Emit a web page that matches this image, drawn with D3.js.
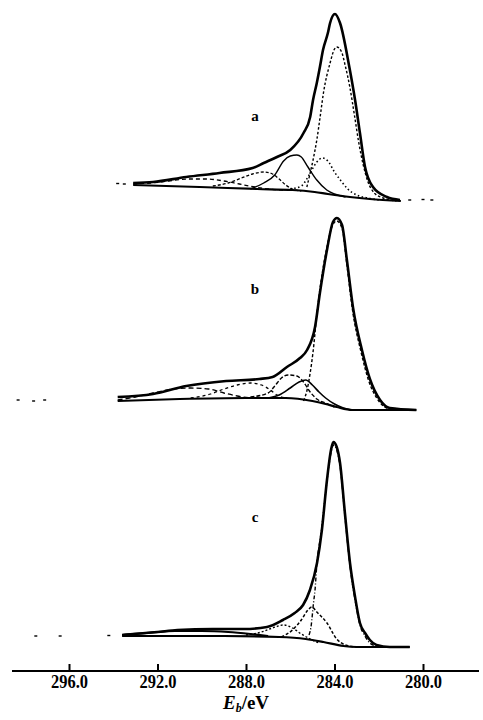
<!DOCTYPE html>
<html><head><meta charset="utf-8">
<script src="https://cdn.jsdelivr.net/npm/d3@7"></script>
<style>html,body{margin:0;padding:0;background:#fff;} svg{display:block;}</style>
</head><body>
<svg id="chart" width="483" height="720"></svg>
<script>
// ---------- data (binding energy eV, intensity a.u.) ----------
const tickValues = [296, 292, 288, 284, 280];
const tickLabels = ["296.0", "292.0", "288.0", "284.0", "280.0"];
const panelNames = ["a", "b", "c"];
const axisTitleMain = "E", axisTitleSub = "b", axisTitleUnit = "/eV";

// panel a
const aEnvelope = [[293.1,18],[292.2,19],[290.7,24],[289.2,28],[287.7,33],[287.2,38],[286.6,44],[286.0,51],[285.4,68],[285.1,84],[284.97,101],[284.8,118],[284.66,134],[284.52,151],[284.3,168],[284.2,178],[283.98,187],[283.75,178],[283.33,134],[283.07,101],[282.85,68],[282.62,34],[282.26,14],[281.63,4],[281.04,1]];
const aBackground = [[293.1,16],[290.1,14],[287.5,12],[285.9,11],[284.9,9],[284.3,7],[283.3,4],[282.4,2],[281.0,0]];
const aPeak1 = [[285.25,14],[285.1,28],[284.97,41],[284.8,61],[284.65,84],[284.5,108],[284.2,138],[284.0,152],[283.9,154],[283.7,150],[283.5,134],[283.3,113],[283.1,86],[282.9,58],[282.7,36],[282.5,20],[282.2,8],[281.8,3],[281.2,0]];
const aPeak2 = [[286.0,12],[285.5,15],[285.2,24],[285.0,32],[284.8,39],[284.55,43],[284.3,40],[284.0,29],[283.7,20],[283.4,12],[283.0,6],[282.5,3],[282.0,1]];
const aPeak3 = [[287.8,12],[287.2,18],[286.7,26],[286.3,40],[286.0,45],[285.7,46],[285.5,44],[285.2,34],[284.8,21],[284.35,11],[284.0,7],[283.5,4]];
const aPeak4 = [[289.5,15],[288.8,18],[288.2,23],[287.7,27],[287.2,29],[286.8,27],[286.5,22],[286.2,16],[285.9,12],[285.5,10]];
const aPeak5 = [[293.1,17],[292.3,18],[291.5,20],[290.6,22],[289.8,22],[289.0,20],[288.3,17],[287.6,14],[287.0,12],[286.3,11]];
const aNoise = [[293.5,17],[293.8,17.5],[280.6,1],[280.0,1.5],[279.6,1]];

// panel b
const bEnvelope = [[293.8,13],[292.2,16],[290.7,24],[288.9,29],[287.4,31],[286.8,33],[286.15,43],[285.56,52],[285.24,60],[284.88,83],[284.66,117],[284.34,160],[284.07,188],[283.89,192],[283.66,185],[283.44,150],[283.16,102],[282.76,60],[282.4,31],[281.94,10],[281.5,2],[280.3,0]];
const bBackground = [[293.8,9],[291.0,11],[288.0,12],[286.2,12],[285.0,9],[284.4,6],[283.9,3],[283.2,0],[280.3,0]];
const bPeak1 = [[285.4,9],[285.24,20],[285.1,37],[284.97,58],[284.8,95],[284.6,130],[284.35,162],[284.1,184],[283.9,189],[283.65,181],[283.45,147],[283.18,99],[282.8,58],[282.45,29],[282.0,9],[281.5,1],[281.0,0]];
const bPeak2 = [[287.0,12],[286.5,15],[286.0,22],[285.6,28],[285.3,30],[285.0,25],[284.7,18],[284.4,12],[284.0,6],[283.6,2],[283.2,0]];
const bPeak3 = [[287.8,13],[287.0,17],[286.7,24],[286.4,32],[286.1,35],[285.7,34],[285.4,28],[285.1,18],[284.8,11],[284.4,7],[284.0,3]];
const bPeak4 = [[290.5,12],[289.6,16],[289.0,21],[288.4,25],[287.8,27],[287.3,25],[286.9,20],[286.6,15],[286.2,12]];
const bPeak5 = [[293.8,10],[293.0,13],[292.2,17],[291.3,21],[290.5,22],[289.7,21],[289.0,17],[288.4,14],[287.8,12]];
const bNoise = [[298.3,10],[297.6,9],[297.1,10]];

// panel c
const cEnvelope = [[293.6,12],[292.0,15],[291.1,17],[289.5,18],[288.1,18],[287.05,20],[286.33,27],[285.8,34],[285.42,42],[285.11,57],[284.79,84],[284.57,117],[284.34,167],[284.15,198],[284.05,205],[283.9,200],[283.75,184],[283.53,134],[283.3,84],[283.07,50],[282.85,24],[282.62,14],[282.4,7],[282.1,2],[281.5,0],[280.6,0]];
const cBackground = [[293.6,11],[289.0,11],[286.5,10],[285.3,8],[284.5,5],[283.6,1],[283.0,0],[280.6,0]];
const cPeak1 = [[285.15,12],[285.05,22],[284.95,44],[284.88,57],[284.8,82],[284.6,115],[284.35,164],[284.15,195],[284.05,202],[283.9,197],[283.75,181],[283.53,131],[283.3,81],[283.07,47],[282.85,22],[282.62,11],[282.4,4],[282.1,1],[281.6,0]];
const cPeak2 = [[286.4,10],[285.9,17],[285.5,27],[285.2,37],[285.02,40],[284.8,35],[284.34,24],[283.9,8],[283.5,2],[283.0,0]];
const cPeak3 = [[288.0,12],[287.3,15],[286.8,19],[286.3,22],[285.9,19],[285.5,13],[285.1,8],[284.7,4]];
const cPeak4 = [[293.6,12],[292.5,14],[291.2,16],[290.0,16],[288.8,15],[287.8,13],[287.0,11]];
const cNoise = [[297.5,11],[296.4,11],[294.2,11.5]];

// ---------- layout / styles ----------
const svg = d3.select("#chart");
const x = d3.scaleLinear().domain([296, 280]).range([69, 423]);

const panels = [
  { name: panelNames[0], zeroY: 201, labelY: 116, env: aEnvelope, bg: aBackground, noise: aNoise,
    comps: [ {d: aPeak5, dash: "4,3", w: 1.3}, {d: aPeak4, dash: "3,2", w: 1.3},
             {d: aPeak3, dash: null, w: 1.4}, {d: aPeak2, dash: "1.5,2.5", w: 1.6},
             {d: aPeak1, dash: "2.5,2", w: 1.4} ] },
  { name: panelNames[1], zeroY: 410, labelY: 289, env: bEnvelope, bg: bBackground, noise: bNoise,
    comps: [ {d: bPeak5, dash: "5,3", w: 1.3}, {d: bPeak4, dash: "3,3", w: 1.3},
             {d: bPeak3, dash: "4,2", w: 1.4}, {d: bPeak2, dash: null, w: 1.6},
             {d: bPeak1, dash: "3,2", w: 1.4} ] },
  { name: panelNames[2], zeroY: 647, labelY: 517, env: cEnvelope, bg: cBackground, noise: cNoise,
    comps: [ {d: cPeak4, dash: null, w: 2.2}, {d: cPeak3, dash: "2,2", w: 1.4},
             {d: cPeak2, dash: "3,2", w: 1.5}, {d: cPeak1, dash: "4,2,1,2", w: 1.4} ] }
];

panels.forEach(p => {
  const y = d3.scaleLinear().domain([0, 200]).range([p.zeroY, p.zeroY - 200]);
  const line = d3.line()
    .x(d => x(d[0])).y(d => y(d[1]))
    .curve(d3.curveMonotoneX);
  const sorted = arr => arr.slice().sort((u, v) => v[0] - u[0]);
  const g = svg.append("g");

  p.comps.forEach(c => {
    g.append("path").attr("d", line(sorted(c.d)))
      .attr("fill", "none").attr("stroke", "#000")
      .attr("stroke-width", c.w)
      .attr("stroke-dasharray", c.dash)
      .attr("stroke-linecap", "butt");
  });
  g.append("path").attr("d", line(sorted(p.bg)))
    .attr("fill", "none").attr("stroke", "#000").attr("stroke-width", 2.2);
  g.append("path").attr("d", line(sorted(p.env)))
    .attr("fill", "none").attr("stroke", "#000").attr("stroke-width", 2.6)
    .attr("stroke-linejoin", "round");
  g.selectAll("rect.noise").data(p.noise).join("rect")
    .attr("x", d => x(d[0]) - 1.5).attr("y", d => y(d[1]) - 0.7)
    .attr("width", 3).attr("height", 1.4).attr("fill", "#000");

  svg.append("text").text(p.name)
    .attr("x", 255).attr("y", p.labelY + 5)
    .attr("text-anchor", "middle")
    .attr("font-family", "Liberation Serif, Times New Roman, serif")
    .attr("font-weight", "bold").attr("font-size", 15).attr("fill", "#000");
});

// ---------- axis ----------
const axisY = 671;
svg.append("line").attr("x1", 12).attr("x2", 479).attr("y1", axisY).attr("y2", axisY)
  .attr("stroke", "#000").attr("stroke-width", 2.2);
const xAxis = d3.axisBottom(x).tickValues(tickValues)
  .tickFormat((d, i) => tickLabels[i]).tickSize(-7).tickSizeOuter(0);
const ga = svg.append("g").attr("transform", `translate(0,${axisY})`).call(xAxis);
ga.select(".domain").remove();
ga.selectAll(".tick line").attr("stroke", "#000").attr("stroke-width", 2);
ga.selectAll(".tick text")
  .attr("y", 17).attr("dy", null)
  .attr("font-family", "Liberation Serif, Times New Roman, serif")
  .attr("font-weight", "bold").attr("font-size", 19)
  .attr("textLength", 37).attr("lengthAdjust", "spacingAndGlyphs")
  .attr("fill", "#000");

const title = svg.append("text").attr("x", 246).attr("y", 709)
  .attr("text-anchor", "middle")
  .attr("font-family", "Liberation Serif, Times New Roman, serif")
  .attr("font-weight", "bold").attr("font-size", 19).attr("fill", "#000");
title.append("tspan").text(axisTitleMain).attr("font-style", "italic");
title.append("tspan").text(axisTitleSub).attr("font-style", "italic")
  .attr("font-size", 12).attr("dy", 3);
title.append("tspan").text(axisTitleUnit).attr("dy", -3);
</script>
</body></html>
